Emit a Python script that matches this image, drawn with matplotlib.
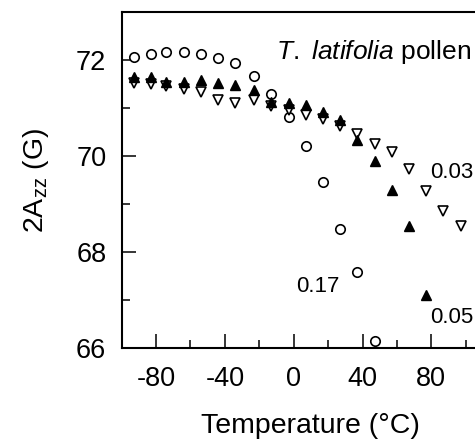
import numpy as np
import matplotlib.pyplot as plt

plt.rcParams['font.family'] = ['Liberation Sans', 'DejaVu Sans']
plt.rcParams['mathtext.fontset'] = 'custom'
plt.rcParams['mathtext.rm'] = 'Liberation Sans'
plt.rcParams['mathtext.it'] = 'Liberation Sans:italic'
plt.rcParams['axes.unicode_minus'] = False

# temperatures (C)
temp_017 = [-93, -83, -74, -64, -54, -44, -34, -23, -13, -3, 7, 17, 27, 37, 47]
azz_017 = [72.06, 72.13, 72.17, 72.17, 72.13, 72.04, 71.94, 71.66, 71.28,
           70.81, 70.21, 69.45, 68.48, 67.58, 66.14]

temp_005 = [-93, -83, -74, -64, -54, -44, -34, -23, -13, -3, 7, 17, 27, 37,
            47, 57, 67, 77]
azz_005 = [71.64, 71.64, 71.55, 71.53, 71.59, 71.52, 71.48, 71.38, 71.13,
           71.11, 71.06, 70.92, 70.75, 70.33, 69.89, 69.30, 68.54, 67.11]

temp_003 = [-93, -83, -74, -64, -54, -44, -34, -23, -13, -3, 7, 17, 27, 37,
            47, 57, 67, 77, 87, 97]
azz_003 = [71.51, 71.49, 71.45, 71.40, 71.34, 71.17, 71.11, 71.17, 71.04,
           70.96, 70.85, 70.77, 70.63, 70.46, 70.25, 70.08, 69.73, 69.27,
           68.85, 68.54]

fig = plt.figure(figsize=(4.75, 4.4), dpi=100)
# right spine sits past the figure edge, like the cropped scan
ax = fig.add_axes([0.256, 0.209, 0.797, 0.764])

ax.plot(temp_017, azz_017, 'o', ms=6.8, mfc='white', mec='black', mew=1.2, ls='none')
ax.plot(temp_003, azz_003, 'v', ms=7, mfc='white', mec='black', mew=1.2, ls='none')
ax.plot(temp_005, azz_005, '^', ms=7, mfc='black', mec='black', mew=1.0, ls='none')

ax.text(14, 67.28, '0.17', fontsize=16, ha='center', va='center')
ax.text(79.3, 69.66, '0.03', fontsize=16, ha='left', va='center')
ax.text(79.3, 66.64, '0.05', fontsize=16, ha='left', va='center')
ax.text(-10.4, 72.17, r'$\it{T.}$ $\it{latifolia}$ pollen', fontsize=19,
        ha='left', va='center')

ax.set_xlim(-100, 120)
ax.set_ylim(66, 73)
ax.set_xticks([-80, -40, 0, 40, 80])
ax.set_xticks([-60, -20, 20, 60, 100], minor=True)
ax.set_yticks([66, 68, 70, 72])
ax.set_yticks([67, 69, 71], minor=True)

ax.tick_params(which='both', direction='in', width=1.1, labelsize=19.5,
               top=False, right=False)
ax.tick_params(which='major', length=10)
ax.tick_params(which='minor', length=5.5)
ax.tick_params(axis='x', pad=13)
ax.tick_params(axis='y', pad=11)
for s in ax.spines.values():
    s.set_linewidth(1.5)

ax.set_xlabel('Temperature (°C)', fontsize=20.5, labelpad=15)
ax.set_ylabel(r'2A$_\mathrm{zz}$ (G)', fontsize=20.5, labelpad=18)

fig.savefig('out.png', dpi=100)
